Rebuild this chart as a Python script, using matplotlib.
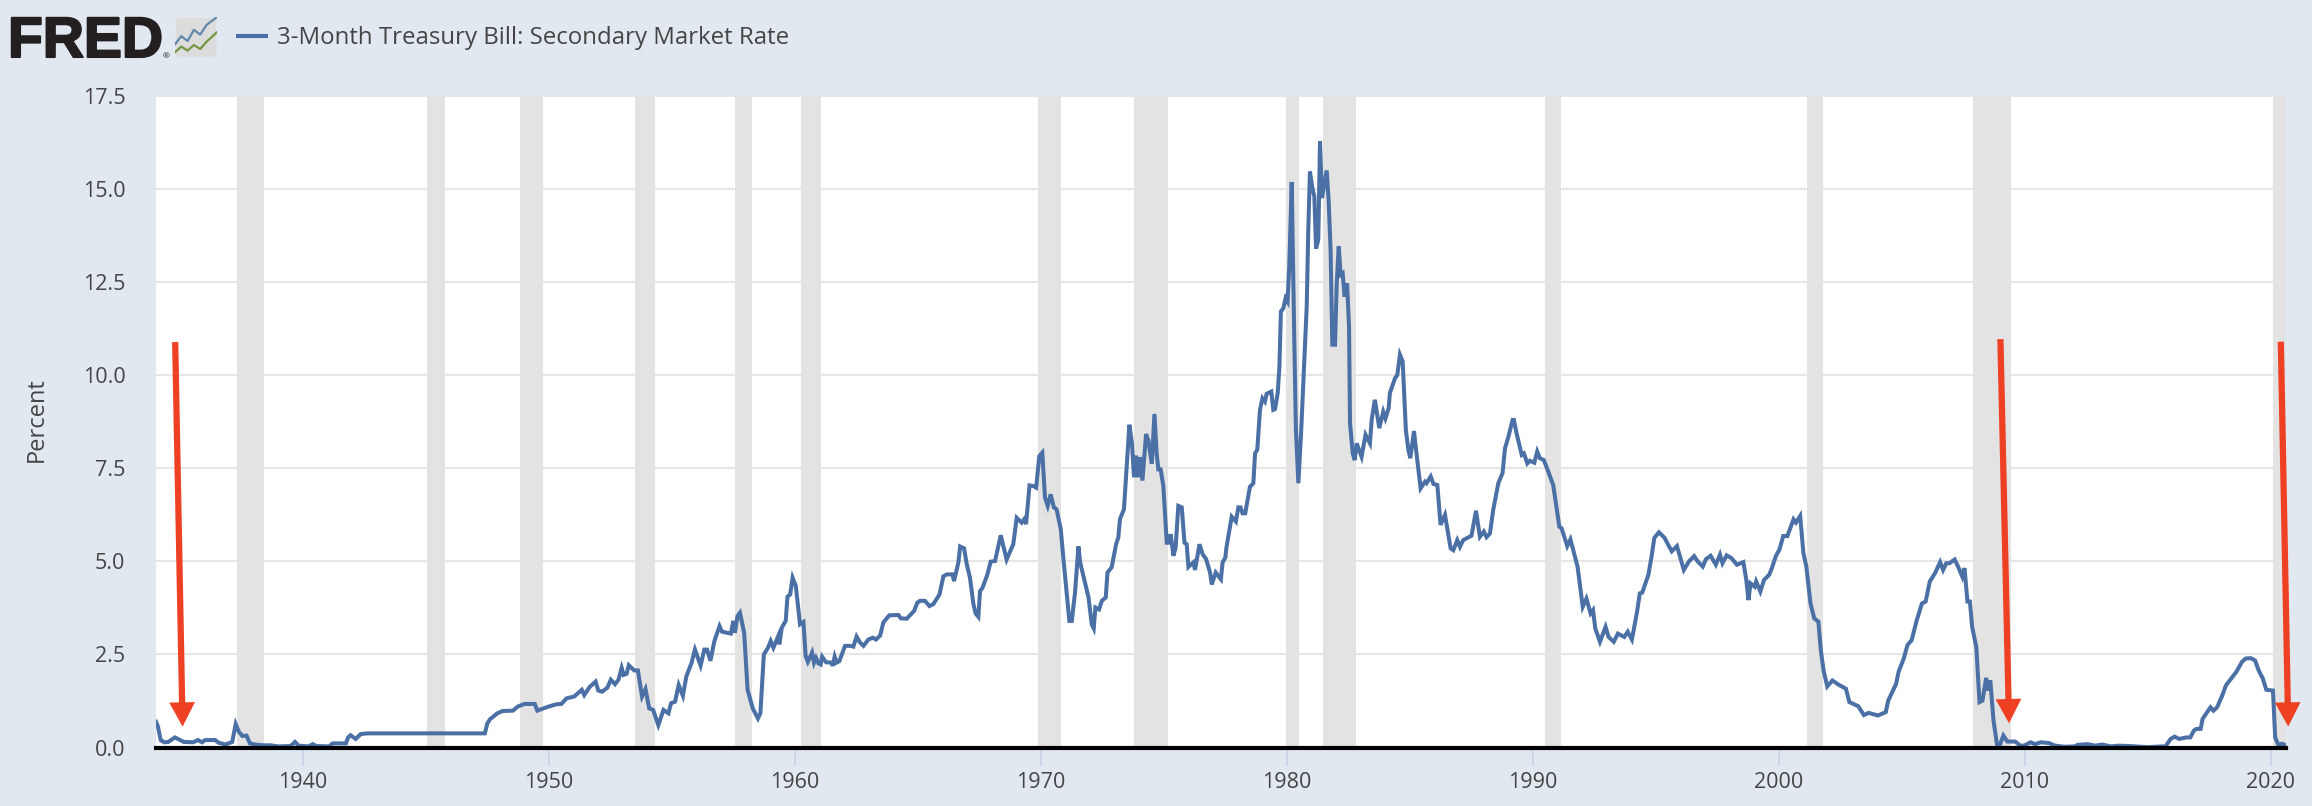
import numpy as np
import matplotlib
matplotlib.use('Agg')
import matplotlib.pyplot as plt
from matplotlib.patches import FancyBboxPatch
import matplotlib.patheffects as pe

# values: decimal year, percent
years_30s_50s = [1934.02, 1934.1, 1934.21, 1934.36, 1934.52, 1934.79, 1935.15, 1935.52, 1935.73, 1935.89, 1936.02,
                 1936.43, 1936.56, 1936.85, 1937.12, 1937.26, 1937.39, 1937.53, 1937.7, 1937.84, 1938.05, 1938.36,
                 1938.67, 1938.98, 1939.5, 1939.67, 1939.81, 1940.23, 1940.39, 1940.54, 1941.06, 1941.2, 1941.74,
                 1941.83, 1941.93, 1942.14, 1942.34, 1942.61, 1947.39, 1947.49, 1947.6, 1947.9, 1948.11, 1948.53,
                 1948.73, 1949.0, 1949.42, 1949.52, 1949.77, 1949.98, 1950.29, 1950.5, 1950.71, 1951.02, 1951.33,
                 1951.43, 1951.64, 1951.89, 1952.0, 1952.16, 1952.37, 1952.51, 1952.68, 1952.82, 1952.95, 1953.03,
                 1953.15, 1953.24, 1953.46, 1953.61, 1953.78, 1953.92, 1954.07, 1954.23, 1954.44, 1954.65, 1954.85,
                 1954.96, 1955.12, 1955.27, 1955.44, 1955.58, 1955.79, 1955.93, 1956.16, 1956.31, 1956.42, 1956.56,
                 1956.72, 1956.93, 1957.03, 1957.39, 1957.49, 1957.55, 1957.66, 1957.76, 1957.93, 1958.07, 1958.28,
                 1958.49, 1958.59, 1958.73, 1958.9]
rates_30s_50s = [0.69, 0.56, 0.2, 0.14, 0.15, 0.27, 0.15, 0.14, 0.2, 0.14, 0.2,
                 0.2, 0.13, 0.08, 0.15, 0.63, 0.42, 0.31, 0.32, 0.11, 0.08, 0.06,
                 0.06, 0.03, 0.04, 0.15, 0.05, 0.03, 0.09, 0.04, 0.03, 0.11, 0.11,
                 0.27, 0.33, 0.23, 0.36, 0.38, 0.38, 0.65, 0.76, 0.92, 0.98, 0.99,
                 1.1, 1.17, 1.17, 0.99, 1.05, 1.1, 1.16, 1.17, 1.32, 1.37, 1.55,
                 1.41, 1.62, 1.77, 1.53, 1.5, 1.61, 1.82, 1.7, 1.82, 2.14, 1.95,
                 1.98, 2.21, 2.07, 2.07, 1.37, 1.57, 1.05, 1.01, 0.6, 1.01, 0.92,
                 1.19, 1.23, 1.68, 1.39, 1.91, 2.27, 2.63, 2.2, 2.63, 2.63, 2.33,
                 2.86, 3.26, 3.11, 3.06, 3.4, 3.08, 3.53, 3.62, 3.08, 1.55, 1.05,
                 0.78, 0.92, 2.5, 2.68]

years_60s_70s = [1959.01, 1959.12, 1959.32, 1959.36, 1959.46, 1959.62, 1959.69, 1959.8, 1959.9, 1960.03, 1960.2,
                 1960.34, 1960.43, 1960.52, 1960.69, 1960.77, 1960.85, 1960.95, 1961.04, 1961.1, 1961.26, 1961.49,
                 1961.53, 1961.61, 1961.69, 1961.8, 1962.03, 1962.24, 1962.37, 1962.5, 1962.64, 1962.78, 1962.98,
                 1963.16, 1963.29, 1963.46, 1963.59, 1963.83, 1964.2, 1964.3, 1964.54, 1964.84, 1964.97, 1965.08,
                 1965.28, 1965.46, 1965.62, 1965.87, 1966.03, 1966.17, 1966.4, 1966.46, 1966.64, 1966.71, 1966.87,
                 1966.98, 1967.11, 1967.25, 1967.34, 1967.45, 1967.52, 1967.62, 1967.82, 1967.95, 1968.13, 1968.36,
                 1968.6, 1968.87, 1969.01, 1969.21, 1969.31, 1969.39, 1969.53, 1969.69, 1969.8, 1969.93, 1970.05,
                 1970.16, 1970.27, 1970.39, 1970.52, 1970.63, 1970.8, 1970.91, 1971.04, 1971.15, 1971.25, 1971.38,
                 1971.52, 1971.59, 1971.93, 1972.06, 1972.14, 1972.21, 1972.36, 1972.47, 1972.63, 1972.7, 1972.87,
                 1973.05, 1973.14, 1973.21, 1973.37, 1973.59, 1973.69, 1973.78, 1973.86, 1973.96, 1974.02, 1974.12,
                 1974.27, 1974.36, 1974.5, 1974.61, 1974.7, 1974.77, 1974.86, 1974.97, 1975.11, 1975.2, 1975.27,
                 1975.38, 1975.47, 1975.58, 1975.72, 1975.83, 1975.92, 1975.99, 1976.19, 1976.26, 1976.44, 1976.57,
                 1976.71, 1976.87, 1976.94, 1977.1, 1977.31, 1977.38, 1977.49]
rates_60s_70s = [2.86, 2.68, 3.0, 2.77, 3.22, 3.4, 4.05, 4.11, 4.56, 4.34, 3.31,
                 3.37, 2.46, 2.3, 2.55, 2.28, 2.41, 2.26, 2.23, 2.44, 2.29, 2.28,
                 2.19, 2.44, 2.28, 2.32, 2.73, 2.73, 2.71, 2.98, 2.82, 2.73, 2.9,
                 2.95, 2.9, 3.01, 3.36, 3.55, 3.56, 3.47, 3.46, 3.67, 3.89, 3.94,
                 3.94, 3.8, 3.85, 4.11, 4.6, 4.65, 4.65, 4.47, 4.97, 5.4, 5.35,
                 4.92, 4.56, 3.85, 3.6, 3.51, 4.2, 4.29, 4.65, 4.99, 5.01, 5.7,
                 5.05, 5.46, 6.17, 6.04, 6.13, 6.0, 7.04, 7.02, 6.98, 7.83, 7.92,
                 6.71, 6.49, 6.8, 6.45, 6.4, 5.87, 5.06, 4.16, 3.4, 3.4, 4.16,
                 5.4, 4.97, 4.03, 3.31, 3.2, 3.76, 3.71, 3.94, 4.03, 4.7, 4.84,
                 5.46, 5.64, 6.14, 6.4, 8.67, 8.2, 7.26, 7.84, 7.26, 7.8, 7.17,
                 8.42, 8.25, 7.62, 8.96, 7.88, 7.47, 7.47, 7.03, 5.5, 5.5, 5.73,
                 5.15, 5.37, 6.49, 6.45, 5.5, 5.46, 4.85, 4.97, 4.77, 5.46, 5.19,
                 5.06, 4.7, 4.38, 4.7, 4.52, 4.97, 5.1]

years_80s = [1977.54, 1977.75, 1977.92, 1978.02, 1978.11, 1978.19, 1978.3, 1978.49, 1978.63, 1978.7, 1978.79,
             1978.9, 1979.0, 1979.1, 1979.17, 1979.36, 1979.44, 1979.51, 1979.62, 1979.69, 1979.75, 1979.85,
             1979.94, 1980.02, 1980.09, 1980.19, 1980.29, 1980.36, 1980.46, 1980.57, 1980.69, 1980.8, 1980.86,
             1980.93, 1981.03, 1981.11, 1981.18, 1981.27, 1981.34, 1981.42, 1981.61, 1981.69, 1981.77, 1981.84,
             1981.95, 1982.02, 1982.1, 1982.18, 1982.26, 1982.34, 1982.44, 1982.52, 1982.56, 1982.67, 1982.75,
             1982.83, 1983.03, 1983.19, 1983.37, 1983.44, 1983.57, 1983.75, 1983.91, 1984.0, 1984.13, 1984.18,
             1984.39, 1984.48, 1984.59, 1984.7, 1984.83, 1984.93, 1985.01, 1985.16, 1985.23, 1985.43, 1985.61,
             1985.67, 1985.84, 1985.95, 1986.11, 1986.24, 1986.42, 1986.65, 1986.76, 1986.92, 1987.03, 1987.16,
             1987.5, 1987.68, 1987.84, 1988.0, 1988.11, 1988.25, 1988.38, 1988.59, 1988.76, 1988.86, 1989.0,
             1989.17, 1989.22, 1989.33, 1989.54, 1989.63, 1989.77, 1989.87, 1990.05, 1990.17, 1990.28, 1990.44,
             1990.62, 1990.82, 1990.93, 1991.07, 1991.16]
rates_80s = [5.39, 6.2, 6.07, 6.45, 6.45, 6.29, 6.29, 7.0, 7.1, 7.9, 8.0,
             9.07, 9.38, 9.29, 9.5, 9.56, 9.07, 9.09, 9.52, 10.23, 11.71, 11.8,
             12.07, 11.98, 12.92, 15.19, 11.13, 8.53, 7.1, 8.44, 10.23, 11.85, 13.82,
             15.47, 15.03, 14.8, 13.4, 13.64, 16.28, 14.76, 15.5, 14.71, 13.37, 10.82,
             10.82, 12.47, 13.46, 12.7, 12.74, 12.11, 12.47, 11.3, 8.71, 7.9, 7.72,
             8.17, 7.81, 8.4, 8.17, 8.8, 9.34, 8.58, 9.02, 8.84, 9.11, 9.52,
             9.92, 10.0, 10.55, 10.37, 8.53, 8.0, 7.77, 8.5, 8.08, 6.96, 7.14,
             7.1, 7.28, 7.08, 7.05, 5.98, 6.25, 5.35, 5.3, 5.57, 5.39, 5.57,
             5.69, 6.36, 5.66, 5.8, 5.65, 5.75, 6.38, 7.1, 7.37, 8.04, 8.35,
             8.8, 8.8, 8.44, 7.86, 7.9, 7.63, 7.7, 7.65, 7.95, 7.77, 7.72,
             7.41, 7.05, 6.56, 5.93, 5.89]

years_90s_on = [1991.39, 1991.52, 1991.7, 1991.81, 1992.02, 1992.17, 1992.34, 1992.44, 1992.53, 1992.72, 1992.95,
                1993.07, 1993.28, 1993.45, 1993.71, 1993.85, 1994.02, 1994.23, 1994.34, 1994.44, 1994.69, 1994.82,
                1994.93, 1995.12, 1995.35, 1995.49, 1995.64, 1995.85, 1996.13, 1996.34, 1996.55, 1996.69, 1996.9,
                1997.03, 1997.22, 1997.43, 1997.6, 1997.7, 1997.87, 1998.06, 1998.29, 1998.55, 1998.67, 1998.76,
                1998.84, 1999.01, 1999.07, 1999.24, 1999.39, 1999.6, 1999.71, 1999.87, 2000.02, 2000.17, 2000.34,
                2000.59, 2000.69, 2000.86, 2000.99, 2001.11, 2001.28, 2001.43, 2001.6, 2001.7, 2001.81, 2001.96,
                2002.17, 2002.44, 2002.72, 2002.86, 2003.22, 2003.45, 2003.64, 2004.02, 2004.34, 2004.44, 2004.76,
                2004.86, 2005.07, 2005.22, 2005.39, 2005.6, 2005.81, 2005.96, 2006.13, 2006.34, 2006.55, 2006.67,
                2006.8, 2006.93, 2007.14, 2007.28, 2007.45, 2007.54, 2007.66, 2007.76, 2007.85, 2008.02, 2008.15,
                2008.27, 2008.42, 2008.5, 2008.59, 2008.72, 2008.86, 2008.97, 2009.12, 2009.28, 2009.6, 2009.81,
                2009.96, 2010.23, 2010.4, 2010.65, 2010.97, 2011.22, 2011.6, 2012.02, 2012.13, 2012.55, 2012.86,
                2013.14, 2013.49, 2013.81, 2014.23, 2014.97, 2015.6, 2015.7, 2015.92, 2016.08, 2016.27, 2016.55,
                2016.72, 2016.86, 2016.97, 2017.14, 2017.22, 2017.54, 2017.66, 2017.81, 2018.02, 2018.17, 2018.38,
                2018.59, 2018.82, 2018.97, 2019.18, 2019.35, 2019.5, 2019.67, 2019.81, 2020.08, 2020.17, 2020.3,
                2020.44, 2020.57]
rates_90s_on = [5.41, 5.59, 5.14, 4.86, 3.78, 4.0, 3.6, 3.69, 3.2, 2.84, 3.24,
                2.97, 2.84, 3.06, 2.97, 3.11, 2.9, 3.65, 4.14, 4.16, 4.64, 5.14,
                5.63, 5.78, 5.63, 5.45, 5.27, 5.41, 4.77, 5.0, 5.14, 5.0, 4.86,
                5.06, 5.15, 4.91, 5.18, 4.95, 5.16, 5.09, 4.91, 4.98, 4.5, 3.96,
                4.41, 4.32, 4.46, 4.19, 4.5, 4.64, 4.82, 5.14, 5.32, 5.68, 5.68,
                6.13, 6.04, 6.22, 5.23, 4.86, 3.87, 3.47, 3.38, 2.61, 2.07, 1.64,
                1.8, 1.68, 1.58, 1.22, 1.11, 0.87, 0.93, 0.86, 0.95, 1.26, 1.71,
                2.03, 2.39, 2.75, 2.88, 3.42, 3.87, 3.92, 4.46, 4.68, 4.98, 4.77,
                4.95, 4.95, 5.05, 4.86, 4.59, 4.82, 3.92, 3.92, 3.24, 2.7, 1.22,
                1.26, 1.87, 1.53, 1.8, 0.72, 0.09, 0.05, 0.32, 0.16, 0.16, 0.05,
                0.05, 0.14, 0.09, 0.14, 0.12, 0.05, 0.02, 0.03, 0.07, 0.09, 0.05,
                0.08, 0.03, 0.05, 0.04, 0.01, 0.03, 0.02, 0.23, 0.29, 0.23, 0.27,
                0.27, 0.45, 0.5, 0.5, 0.77, 1.08, 0.99, 1.08, 1.4, 1.67, 1.85,
                2.03, 2.3, 2.39, 2.4, 2.34, 2.07, 1.85, 1.55, 1.53, 0.27, 0.07,
                0.1, 0.07]

# recession start/end in decimal years
rec_start = [1937.31, 1945.05, 1948.82, 1953.48, 1957.57, 1960.23, 1969.87, 1973.79, 1979.97, 1981.48, 1990.48, 2001.13, 2007.87, 2020.07]
rec_end = [1938.4, 1945.75, 1949.75, 1954.32, 1958.25, 1961.07, 1970.82, 1975.15, 1980.47, 1982.82, 1991.15, 2001.8, 2009.42, 2020.61]

# arrows: tail and tip as (year, percent)
arrow_tails = [(1934.8, 10.89), (2009.0, 10.97), (2020.4, 10.9)]
arrow_tips = [(1935.1, 0.56), (2009.35, 0.65), (2020.7, 0.56)]

y_ticks = [0, 2.5, 5, 7.5, 10, 12.5, 15, 17.5]
x_ticks = [1940, 1950, 1960, 1970, 1980, 1990, 2000, 2010, 2020]

# little logo chart
logo_x = [0.0, 0.15, 0.3, 0.45, 0.6, 0.75, 1.0]
logo_blue = [0.32, 0.52, 0.4, 0.68, 0.56, 0.8, 1.0]
logo_green = [0.12, 0.26, 0.16, 0.3, 0.2, 0.38, 0.62]

BG = '#e2e8f0'
TXT = '#444444'
W, H = 2312, 806

plt.rcParams['font.family'] = ['Open Sans', 'DejaVu Sans']

fig = plt.figure(figsize=(W / 100, H / 100), dpi=100, facecolor=BG)
ax = fig.add_axes([156 / W, (H - 747.5) / H, 2130 / W, 651.5 / H], facecolor='white')

years = years_30s_50s + years_60s_70s + years_80s + years_90s_on
rates = rates_30s_50s + rates_60s_70s + rates_80s + rates_90s_on

for s, e in zip(rec_start, rec_end):
    ax.axvspan(s, e, facecolor='#e3e3e3', edgecolor='none', zorder=1)

ax.plot(years, rates, color='#4a70a5', lw=2.9, solid_joinstyle='miter', zorder=2)

ax.set_xlim(1934.02, 2020.61)
ax.set_ylim(0, 17.5)
ax.set_axisbelow(True)
ax.grid(axis='y', color='#e6e6e6', lw=1.5)

for side in ['top', 'right', 'left']:
    ax.spines[side].set_visible(False)
ax.spines['bottom'].set_color('black')
ax.spines['bottom'].set_linewidth(3)

ax.set_yticks(y_ticks)
ax.set_yticklabels(['%.1f' % v for v in y_ticks])
ax.set_xticks(x_ticks)
ax.tick_params(axis='y', length=0, pad=22, labelsize=15.5, labelcolor=TXT)
ax.tick_params(axis='x', length=13, width=1.4, color='#ccd6eb', pad=5, labelsize=15.5, labelcolor=TXT)

fig.text(37 / W, 1 - 420 / H, 'Percent', rotation=90, ha='center', va='center', fontsize=17, color=TXT)

for tail, tip in zip(arrow_tails, arrow_tips):
    ax.annotate('', xy=tip, xytext=tail, annotation_clip=False, zorder=5,
                arrowprops=dict(arrowstyle='simple,head_length=1.75,head_width=1.85,tail_width=0.45',
                                mutation_scale=10, facecolor='#ee4023', edgecolor='none', lw=0,
                                shrinkA=0, shrinkB=0, clip_on=False))

# header: logo and legend
fig.text(8 / W, 1 - 57 / H, 'FRED', fontsize=41, fontweight='bold', family='Liberation Sans', color='#231f20',
         ha='left', va='baseline', path_effects=[pe.withStroke(linewidth=1.5, foreground='#231f20')])
fig.text(163 / W, 1 - 58 / H, '\u00ae', fontsize=6, color='#231f20', ha='left', va='baseline')

icon = fig.add_axes([175 / W, 1 - 57 / H, 42 / W, 40 / H])
icon.axis('off')
icon.set_xlim(0, 1)
icon.set_ylim(0, 1)
box = FancyBboxPatch((0.02, 0.02), 0.96, 0.96, boxstyle='round,pad=0,rounding_size=0.08', facecolor='#dcdcdc', edgecolor='none')
icon.add_patch(box)
icon.imshow(np.linspace(1, 0.78, 50).reshape(-1, 1), cmap='gray', vmin=0, vmax=1, extent=[0, 1, 0, 1], aspect='auto',
            clip_path=box)
icon.plot(logo_x, logo_blue, color='#6187ac', lw=1.6)
icon.plot(logo_x, logo_green, color='#74963f', lw=1.6)
icon.set_xlim(0, 1)
icon.set_ylim(0, 1)

fig.add_artist(plt.Line2D([236 / W, 268 / W], [1 - 36 / H, 1 - 36 / H], color='#4a70a5', lw=3, solid_capstyle='butt'))
fig.text(277 / W, 1 - 38 / H, '3-Month Treasury Bill: Secondary Market Rate', fontsize=17.3, color=TXT, ha='left', va='center')

fig.savefig('out.png', dpi=100, facecolor=BG)
